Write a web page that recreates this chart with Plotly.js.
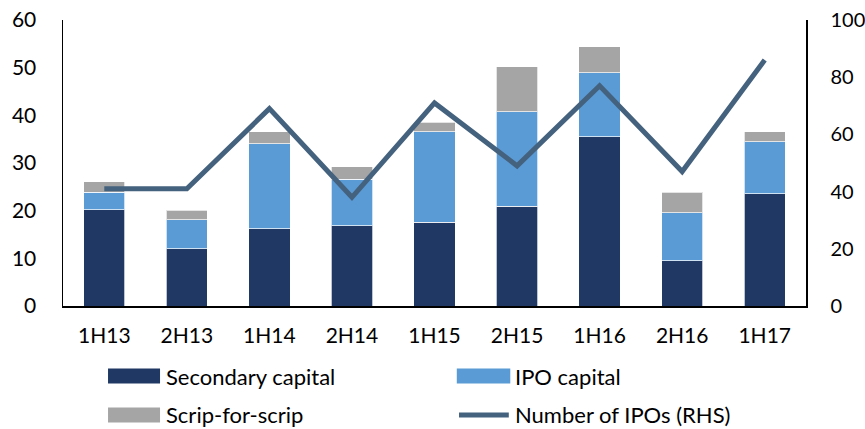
<!DOCTYPE html>
<html>
<head>
<meta charset="utf-8">
<script src="https://cdn.plot.ly/plotly-3.0.1.min.js"></script>
<style>
  html, body { margin: 0; padding: 0; background: #ffffff; }
  #chart { width: 865px; height: 429px; }
</style>
</head>
<body>
<div id="chart"></div>
<script>
// ---- data ----
const periods = ['1H13', '2H13', '1H14', '2H14', '1H15', '2H15', '1H16', '2H16', '1H17'];
const secondaryCapital = [20.2, 12.0, 16.2, 16.8, 17.6, 20.9, 35.5, 9.5, 23.5];
const ipoCapital       = [3.7, 6.1, 17.8, 9.8, 19.0, 19.9, 13.4, 10.1, 11.0];
const scripForScrip    = [2.2, 2.0, 2.6, 2.6, 1.9, 9.4, 5.5, 4.3, 2.1];
const numberOfIPOs     = [41, 41, 69, 38, 71, 49, 77, 47, 86];
const seriesNames = ['Secondary capital', 'IPO capital', 'Scrip-for-scrip', 'Number of IPOs (RHS)'];
const leftTicks  = [0, 10, 20, 30, 40, 50, 60];
const rightTicks = [0, 20, 40, 60, 80, 100];

// ---- styles ----
const colors = ['#203864', '#5b9bd5', '#a5a5a5', '#44627e'];
const FONT = 'Lato, "Open Sans", "DejaVu Sans", sans-serif';

const barLine = { color: 'rgba(255,255,255,0.7)', width: 1 };
const traces = [
  { type: 'bar', name: seriesNames[0], x: periods, y: secondaryCapital,
    marker: { color: colors[0], line: barLine }, showlegend: false, hoverinfo: 'skip' },
  { type: 'bar', name: seriesNames[1], x: periods, y: ipoCapital,
    marker: { color: colors[1], line: barLine }, showlegend: false, hoverinfo: 'skip' },
  { type: 'bar', name: seriesNames[2], x: periods, y: scripForScrip,
    marker: { color: colors[2], line: barLine }, showlegend: false, hoverinfo: 'skip' },
  { type: 'scatter', mode: 'lines', name: seriesNames[3], x: periods, y: numberOfIPOs,
    yaxis: 'y2', line: { color: colors[3], width: 5 }, showlegend: false, hoverinfo: 'skip' }
];

// manual legend (swatches + labels) in paper coordinates
const legendItems = [
  { name: seriesNames[0], kind: 'rect', color: colors[0], x0: 0.0606, x1: 0.1306, y: -0.245, tx: 0.136 },
  { name: seriesNames[1], kind: 'rect', color: colors[1], x0: 0.530,  x1: 0.602,  y: -0.245, tx: 0.606 },
  { name: seriesNames[2], kind: 'rect', color: colors[2], x0: 0.0606, x1: 0.1306, y: -0.381, tx: 0.136 },
  { name: seriesNames[3], kind: 'line', color: colors[3], x0: 0.533,  x1: 0.600,  y: -0.381, tx: 0.606 }
];
const halfH = 7.5 / 286;
const shapes = legendItems.map(it => it.kind === 'rect'
  ? { type: 'rect', xref: 'paper', yref: 'paper', x0: it.x0, x1: it.x1,
      y0: it.y - halfH, y1: it.y + halfH, fillcolor: it.color, line: { width: 0 } }
  : { type: 'line', xref: 'paper', yref: 'paper', x0: it.x0, x1: it.x1,
      y0: it.y, y1: it.y, line: { color: it.color, width: 5 } });
const annotations = legendItems.map(it => ({
  xref: 'paper', yref: 'paper', x: it.tx, y: it.y, xanchor: 'left', yanchor: 'middle',
  text: it.name, showarrow: false, font: { family: FONT, size: 22, color: '#000000' }
}));

const layout = {
  width: 865, height: 429,
  margin: { l: 63, r: 59, t: 20, b: 123, pad: 0 },
  paper_bgcolor: '#ffffff', plot_bgcolor: '#ffffff',
  barmode: 'stack', bargap: 0.5,
  showlegend: false,
  font: { family: FONT, size: 20, color: '#000000' },
  xaxis: {
    type: 'category', showgrid: false, zeroline: false,
    showline: true, linecolor: '#000000', linewidth: 1.5,
    ticks: '', tickfont: { family: FONT, size: 21, color: '#000000' },
    ticklabelstandoff: 10
  },
  yaxis: {
    range: [0, 60], tickvals: leftTicks, ticktext: leftTicks.map(String),
    showgrid: false, zeroline: false,
    showline: true, linecolor: '#000000', linewidth: 1.5,
    ticks: '', tickfont: { family: FONT, size: 21, color: '#000000' },
    ticklabelstandoff: 21
  },
  yaxis2: {
    range: [0, 100], tickvals: rightTicks, ticktext: rightTicks.map(String),
    overlaying: 'y', side: 'right', showgrid: false, zeroline: false,
    showline: true, linecolor: '#000000', linewidth: 1.5,
    ticks: '', tickfont: { family: FONT, size: 20, color: '#000000' },
    ticklabelstandoff: 19
  },
  shapes: shapes,
  annotations: annotations
};

Plotly.newPlot('chart', traces, layout, { staticPlot: true, displayModeBar: false });
</script>
</body>
</html>
